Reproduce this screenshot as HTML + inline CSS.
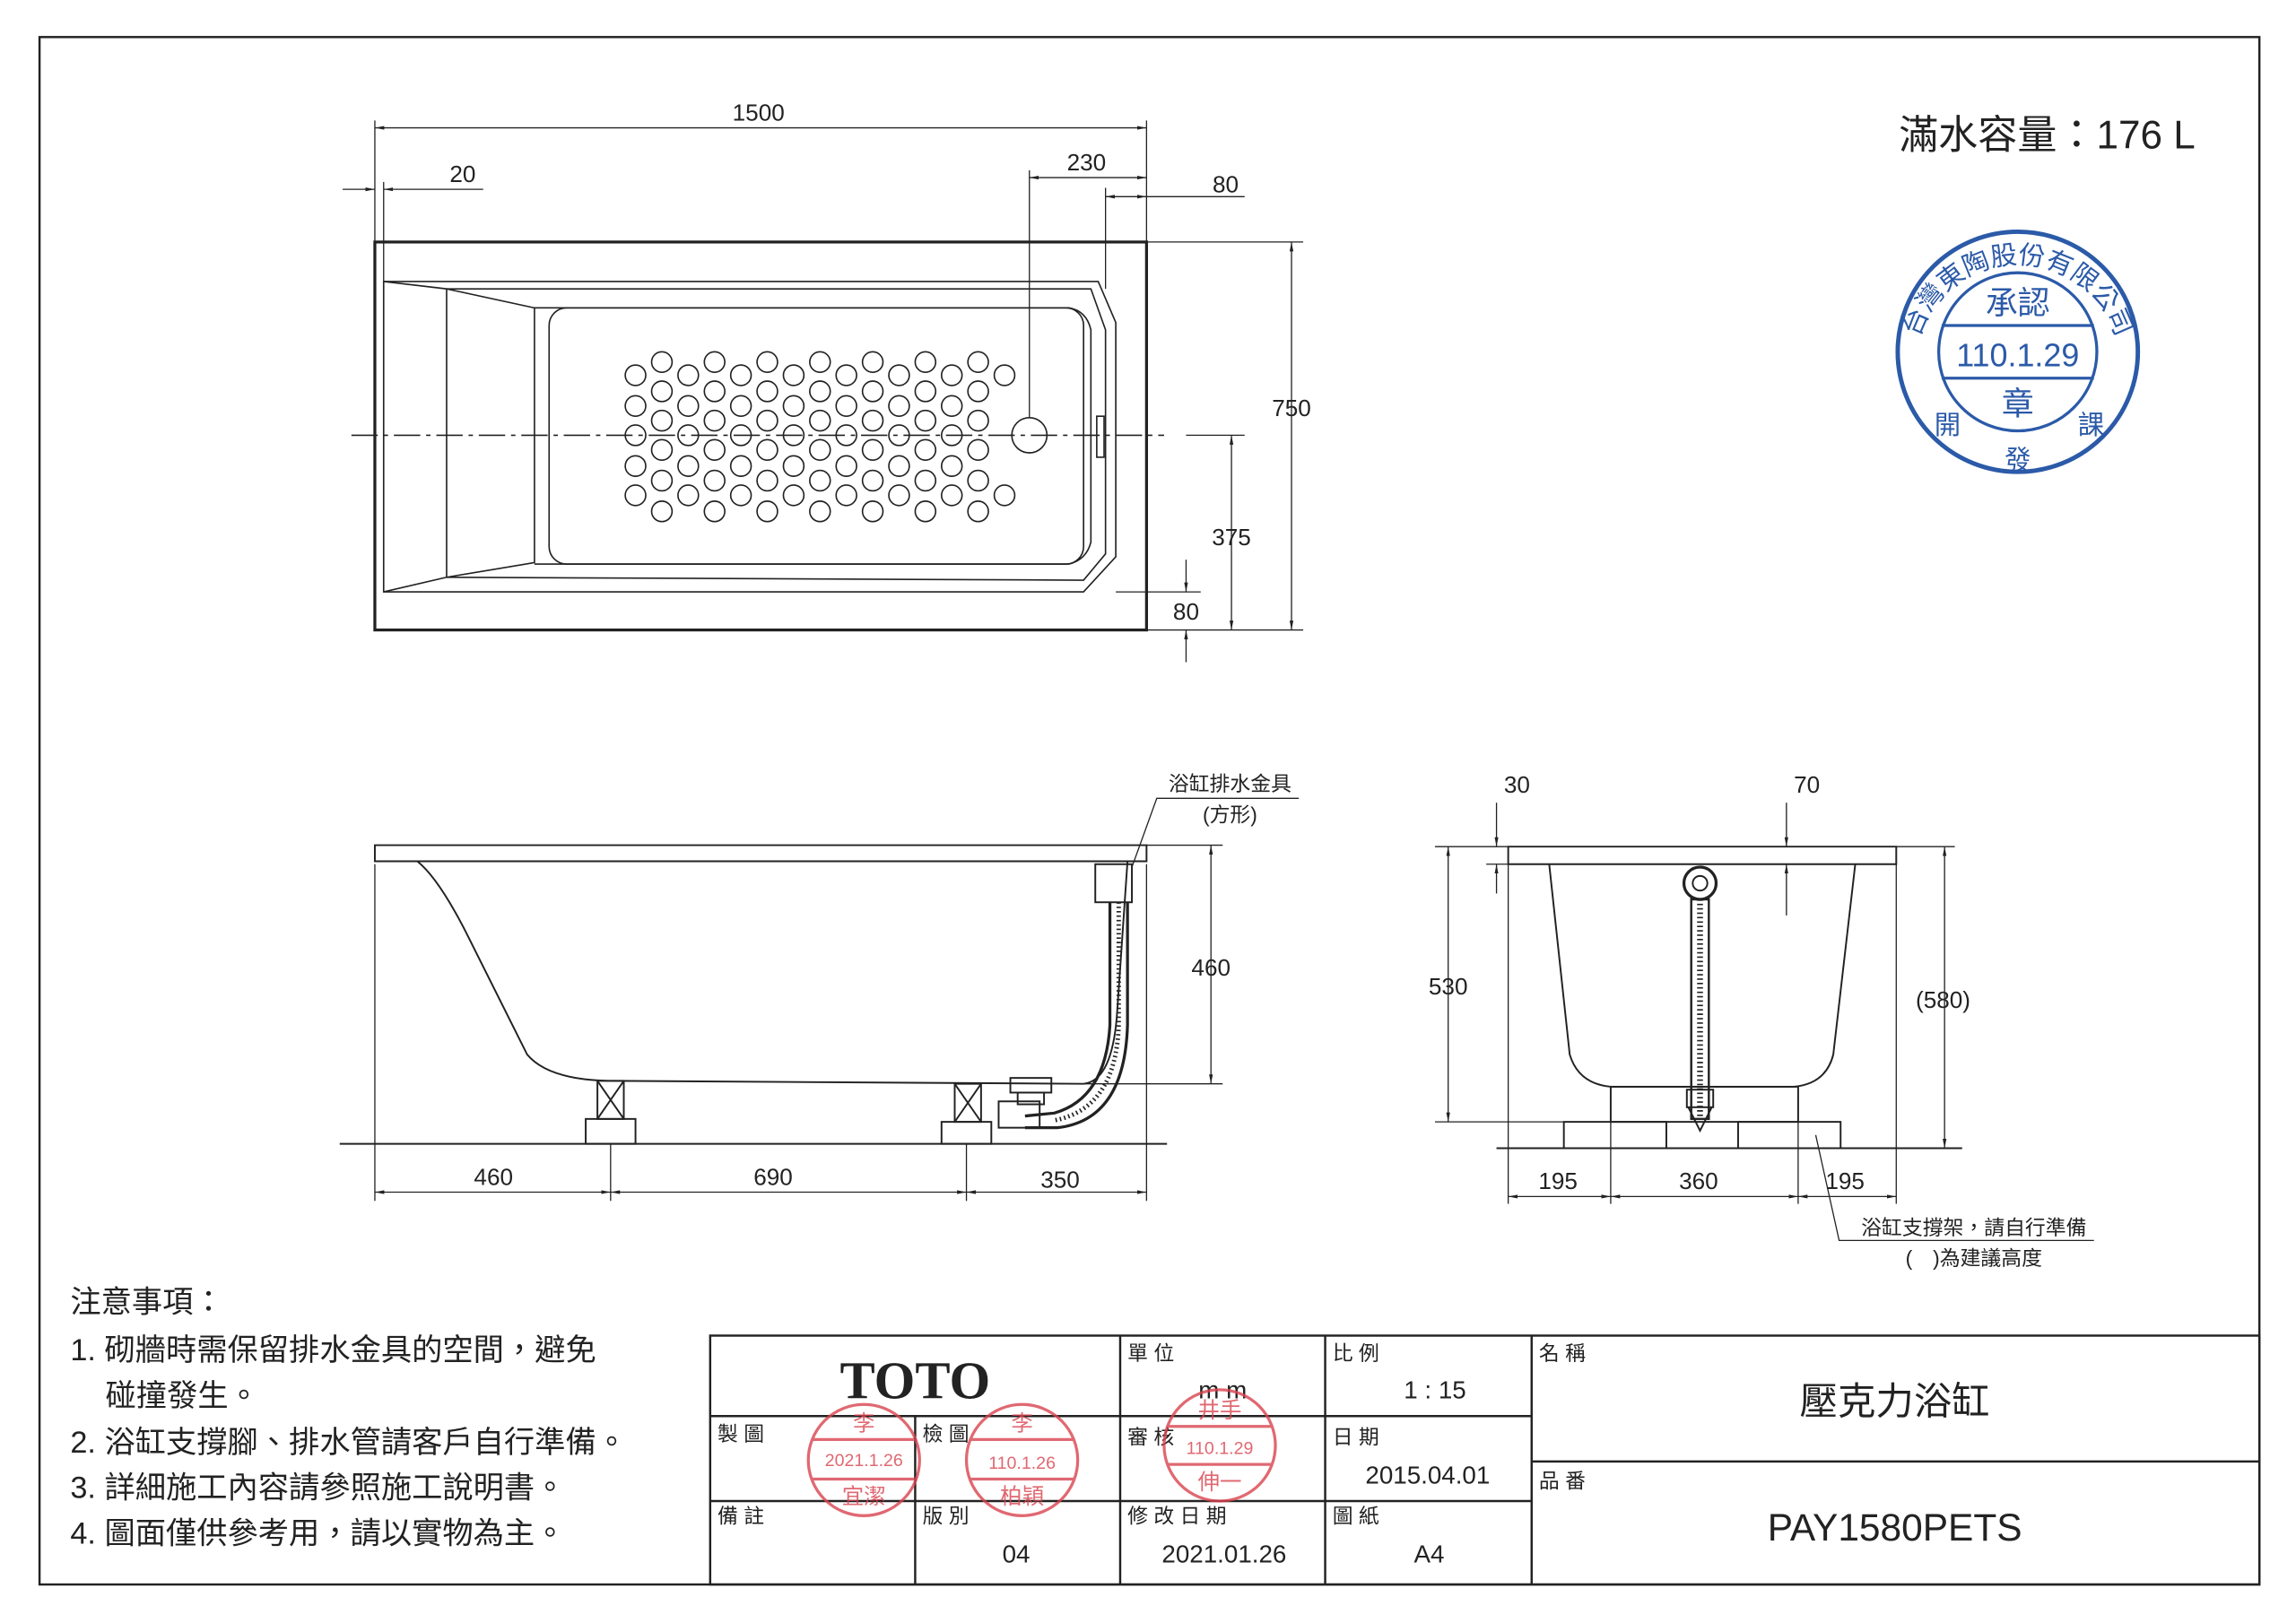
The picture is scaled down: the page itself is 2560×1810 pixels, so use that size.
<!DOCTYPE html>
<html><head><meta charset="utf-8"><style>
html,body{margin:0;padding:0;background:#fff;}
svg{display:block;}
text{font-family:"Liberation Sans","Noto Sans CJK TC",sans-serif;fill:#222;}
</style></head><body>
<svg width="2560" height="1810" viewBox="0 0 1568 1108" xmlns="http://www.w3.org/2000/svg">
<defs>
<marker id="a" viewBox="0 0 10 10" refX="10" refY="5" markerWidth="8" markerHeight="8" orient="auto-start-reverse"><path d="M0,3L10,5L0,7z" fill="#222"/></marker>
<path id="arc" d="M1308 250 A70 70 0 0 1 1448 250"/>
</defs>
<g stroke="#222" fill="none" stroke-width="1">
<rect x="27" y="25" width="1516" height="1057" stroke-width="1.5"/>
<rect x="256" y="165" width="527" height="265" stroke-width="2"/>
<path d="M262 192 L750 192 L762 220 L762 380 L740 404 L262 404 Z"/>
<path d="M262 192 L305 197 L305 394 L262 404"/>
<path d="M305 197 L745 197 L755 225 L755 378 L740 396 L305 394"/>
<path d="M305 197 L365 210 L365 384 L305 394"/>
<rect x="375" y="210" width="365" height="175" rx="12"/>
<path d="M365 210 L730 210 Q742 212 745 225 L745 370 Q742 382 730 385 L365 385"/>
<line x1="240" y1="297" x2="795" y2="297" stroke-dasharray="18,4,3,4"/>
<circle cx="703" cy="297" r="12"/>
<rect x="749" y="284" width="5" height="28"/>
<circle cx="434" cy="256" r="7"/><circle cx="434" cy="277" r="7"/><circle cx="434" cy="297" r="7"/><circle cx="434" cy="318" r="7"/><circle cx="434" cy="338" r="7"/>
<circle cx="452" cy="247" r="7"/><circle cx="452" cy="267" r="7"/><circle cx="452" cy="287" r="7"/><circle cx="452" cy="307" r="7"/><circle cx="452" cy="328" r="7"/><circle cx="452" cy="349" r="7"/>
<circle cx="470" cy="256" r="7"/><circle cx="470" cy="277" r="7"/><circle cx="470" cy="297" r="7"/><circle cx="470" cy="318" r="7"/><circle cx="470" cy="338" r="7"/>
<circle cx="488" cy="247" r="7"/><circle cx="488" cy="267" r="7"/><circle cx="488" cy="287" r="7"/><circle cx="488" cy="307" r="7"/><circle cx="488" cy="328" r="7"/><circle cx="488" cy="349" r="7"/>
<circle cx="506" cy="256" r="7"/><circle cx="506" cy="277" r="7"/><circle cx="506" cy="297" r="7"/><circle cx="506" cy="318" r="7"/><circle cx="506" cy="338" r="7"/>
<circle cx="524" cy="247" r="7"/><circle cx="524" cy="267" r="7"/><circle cx="524" cy="287" r="7"/><circle cx="524" cy="307" r="7"/><circle cx="524" cy="328" r="7"/><circle cx="524" cy="349" r="7"/>
<circle cx="542" cy="256" r="7"/><circle cx="542" cy="277" r="7"/><circle cx="542" cy="297" r="7"/><circle cx="542" cy="318" r="7"/><circle cx="542" cy="338" r="7"/>
<circle cx="560" cy="247" r="7"/><circle cx="560" cy="267" r="7"/><circle cx="560" cy="287" r="7"/><circle cx="560" cy="307" r="7"/><circle cx="560" cy="328" r="7"/><circle cx="560" cy="349" r="7"/>
<circle cx="578" cy="256" r="7"/><circle cx="578" cy="277" r="7"/><circle cx="578" cy="297" r="7"/><circle cx="578" cy="318" r="7"/><circle cx="578" cy="338" r="7"/>
<circle cx="596" cy="247" r="7"/><circle cx="596" cy="267" r="7"/><circle cx="596" cy="287" r="7"/><circle cx="596" cy="307" r="7"/><circle cx="596" cy="328" r="7"/><circle cx="596" cy="349" r="7"/>
<circle cx="614" cy="256" r="7"/><circle cx="614" cy="277" r="7"/><circle cx="614" cy="297" r="7"/><circle cx="614" cy="318" r="7"/><circle cx="614" cy="338" r="7"/>
<circle cx="632" cy="247" r="7"/><circle cx="632" cy="267" r="7"/><circle cx="632" cy="287" r="7"/><circle cx="632" cy="307" r="7"/><circle cx="632" cy="328" r="7"/><circle cx="632" cy="349" r="7"/>
<circle cx="650" cy="256" r="7"/><circle cx="650" cy="277" r="7"/><circle cx="650" cy="297" r="7"/><circle cx="650" cy="318" r="7"/><circle cx="650" cy="338" r="7"/>
<circle cx="668" cy="247" r="7"/><circle cx="668" cy="267" r="7"/><circle cx="668" cy="287" r="7"/><circle cx="668" cy="307" r="7"/><circle cx="668" cy="328" r="7"/><circle cx="668" cy="349" r="7"/>
<circle cx="686" cy="256" r="7"/><circle cx="686" cy="338" r="7"/>
</g>
<g stroke="#222" stroke-width="0.8" fill="none">
<line x1="256" y1="87" x2="783" y2="87" marker-start="url(#a)" marker-end="url(#a)"/>
<line x1="256" y1="82" x2="256" y2="165"/><line x1="783" y1="82" x2="783" y2="165"/>
<line x1="234" y1="129" x2="256" y2="129" marker-end="url(#a)"/><line x1="262" y1="129" x2="330" y2="129" marker-start="url(#a)"/>
<line x1="262" y1="124" x2="262" y2="192"/>
<line x1="703" y1="121" x2="783" y2="121" marker-start="url(#a)" marker-end="url(#a)"/>
<line x1="703" y1="116" x2="703" y2="285"/>
<line x1="755" y1="134" x2="783" y2="134" marker-start="url(#a)" marker-end="url(#a)"/><line x1="783" y1="134" x2="850" y2="134"/>
<line x1="755" y1="128" x2="755" y2="197"/>
<line x1="783" y1="165" x2="890" y2="165"/><line x1="783" y1="430" x2="890" y2="430"/>
<line x1="882" y1="165" x2="882" y2="430" marker-start="url(#a)" marker-end="url(#a)"/>
<line x1="841" y1="297" x2="841" y2="430" marker-start="url(#a)" marker-end="url(#a)"/>
<line x1="810" y1="297" x2="850" y2="297"/>
<line x1="762" y1="404" x2="820" y2="404"/>
<line x1="810" y1="382" x2="810" y2="404" marker-end="url(#a)"/><line x1="810" y1="452" x2="810" y2="430" marker-end="url(#a)"/>
</g>
<g font-size="16" text-anchor="middle">
<text x="518" y="82">1500</text><text x="316" y="124">20</text><text x="742" y="116">230</text><text x="837" y="131">80</text>
<text x="882" y="284">750</text><text x="841" y="372">375</text><text x="810" y="423">80</text>
</g>
<text x="1398" y="101" font-size="27" text-anchor="middle">滿水容量：176 L</text>
<g stroke="#222" fill="none" stroke-width="1.2">
<path d="M256 577 L783 577 L783 588 L256 588 Z"/>
<path d="M285 588 Q300 600 320 640 L360 720 Q375 738 420 738 L740 740 Q760 738 763 690 L770 588"/>
<line x1="232" y1="781" x2="797" y2="781"/>
<rect x="408" y="738" width="18" height="26"/><path d="M408 738 L426 764 M426 738 L408 764"/>
<rect x="400" y="764" width="34" height="17"/>
<rect x="652" y="740" width="18" height="26"/><path d="M652 740 L670 766 M670 740 L652 766"/>
<rect x="643" y="766" width="34" height="15"/>
<rect x="748" y="590" width="25" height="26"/>
<path d="M758 616 L758 700 Q755 750 720 760 L700 762 M770 616 L770 700 Q768 765 722 770 L700 770" stroke-width="2"/>
<path d="M764 616 L764 700 Q762 757 720 765" stroke-width="3" stroke-dasharray="1,2"/>
<rect x="690" y="736" width="28" height="10"/><rect x="695" y="746" width="18" height="8"/>
<rect x="682" y="752" width="28" height="18"/>
</g>
<g stroke="#222" stroke-width="0.8" fill="none">
<line x1="783" y1="577" x2="835" y2="577"/><line x1="740" y1="740" x2="835" y2="740"/>
<line x1="827" y1="577" x2="827" y2="740" marker-start="url(#a)" marker-end="url(#a)"/>
<line x1="256" y1="590" x2="256" y2="820"/><line x1="417" y1="781" x2="417" y2="820"/><line x1="660" y1="781" x2="660" y2="820"/><line x1="783" y1="590" x2="783" y2="820"/>
<line x1="256" y1="814" x2="417" y2="814" marker-start="url(#a)" marker-end="url(#a)"/>
<line x1="417" y1="814" x2="660" y2="814" marker-start="url(#a)" marker-end="url(#a)"/>
<line x1="660" y1="814" x2="783" y2="814" marker-start="url(#a)" marker-end="url(#a)"/>
<path d="M773 592 L790 545 L887 545"/>
</g>
<g font-size="16" text-anchor="middle">
<text x="827" y="666">460</text><text x="337" y="809">460</text><text x="528" y="809">690</text><text x="724" y="811">350</text>
<text x="840" y="540" font-size="14">浴缸排水金具</text><text x="840" y="561" font-size="14">(方形)</text>
</g>
<g stroke="#222" fill="none" stroke-width="1.2">
<path d="M1030 578 L1295 578 L1295 590 L1030 590 Z"/>
<path d="M1058 590 L1072 720 Q1078 740 1100 742 L1225 742 Q1247 740 1252 720 L1267 590"/>
<line x1="1022" y1="784" x2="1340" y2="784"/>
<rect x="1100" y="742" width="128" height="24"/>
<rect x="1068" y="766" width="70" height="18"/><rect x="1187" y="766" width="70" height="18"/>
<circle cx="1161" cy="603" r="11" stroke-width="2"/><circle cx="1161" cy="603" r="5"/>
<rect x="1155" y="614" width="12" height="150" stroke-width="1.5"/>
<line x1="1161" y1="614" x2="1161" y2="764" stroke-width="4" stroke-dasharray="1,2"/>
<rect x="1152" y="744" width="18" height="12"/><path d="M1153 756 L1161 772 L1169 756"/>
</g>
<g stroke="#222" stroke-width="0.8" fill="none">
<line x1="980" y1="578" x2="1030" y2="578"/><line x1="980" y1="766" x2="1100" y2="766"/>
<line x1="989" y1="578" x2="989" y2="766" marker-start="url(#a)" marker-end="url(#a)"/>
<line x1="1022" y1="548" x2="1022" y2="578" marker-end="url(#a)"/><line x1="1022" y1="610" x2="1022" y2="590" marker-end="url(#a)"/>
<line x1="1015" y1="590" x2="1030" y2="590"/>
<line x1="1220" y1="548" x2="1220" y2="578" marker-end="url(#a)"/><line x1="1220" y1="625" x2="1220" y2="590" marker-end="url(#a)"/>
<line x1="1295" y1="578" x2="1335" y2="578"/><line x1="1257" y1="784" x2="1335" y2="784"/>
<line x1="1328" y1="578" x2="1328" y2="784" marker-start="url(#a)" marker-end="url(#a)"/>
<line x1="1030" y1="590" x2="1030" y2="822"/><line x1="1100" y1="766" x2="1100" y2="822"/><line x1="1228" y1="766" x2="1228" y2="822"/><line x1="1295" y1="590" x2="1295" y2="822"/>
<line x1="1030" y1="817" x2="1100" y2="817" marker-start="url(#a)" marker-end="url(#a)"/>
<line x1="1100" y1="817" x2="1228" y2="817" marker-start="url(#a)" marker-end="url(#a)"/>
<line x1="1228" y1="817" x2="1295" y2="817" marker-start="url(#a)" marker-end="url(#a)"/>
<path d="M1240 775 L1256 847 L1430 847"/>
</g>
<g font-size="16" text-anchor="middle">
<text x="1036" y="541">30</text><text x="1234" y="541">70</text><text x="989" y="679">530</text><text x="1327" y="688">(580)</text>
<text x="1064" y="812">195</text><text x="1160" y="812">360</text><text x="1260" y="812">195</text>
<text x="1348" y="843" font-size="14">浴缸支撐架，請自行準備</text>
<text x="1348" y="864" font-size="14">(　)為建議高度</text>
</g>
<g font-size="21">
<text x="48" y="896">注意事項：</text>
<text x="48" y="929">1. 砌牆時需保留排水金具的空間，避免</text>
<text x="72" y="960">碰撞發生。</text>
<text x="48" y="992">2. 浴缸支撐腳、排水管請客戶自行準備。</text>
<text x="48" y="1023">3. 詳細施工內容請參照施工說明書。</text>
<text x="48" y="1054">4. 圖面僅供參考用，請以實物為主。</text>
</g>
<g stroke="#222" fill="none" stroke-width="1.5">
<rect x="485" y="912" width="1058" height="170"/>
<line x1="625" y1="967" x2="625" y2="1082"/><line x1="765" y1="912" x2="765" y2="1082"/><line x1="905" y1="912" x2="905" y2="1082"/><line x1="1046" y1="912" x2="1046" y2="1082"/>
<line x1="485" y1="967" x2="1046" y2="967"/><line x1="485" y1="1025" x2="1046" y2="1025"/><line x1="1046" y1="998" x2="1543" y2="998"/>
</g>
<text x="625" y="955" font-size="36" font-weight="bold" text-anchor="middle" style="font-family:'Liberation Serif',serif">TOTO</text>
<g font-size="14">
<text x="490" y="984">製 圖</text><text x="630" y="984">檢 圖</text><text x="770" y="929">單 位</text><text x="770" y="986">審 核</text>
<text x="910" y="929">比 例</text><text x="910" y="986">日 期</text><text x="490" y="1040">備 註</text><text x="630" y="1040">版 別</text>
<text x="770" y="1040">修 改 日 期</text><text x="910" y="1040">圖 紙</text><text x="1051" y="929">名 稱</text><text x="1051" y="1016">品 番</text>
</g>
<g font-size="17" text-anchor="middle">
<text x="835" y="955">m m</text><text x="980" y="955">1 : 15</text><text x="975" y="1013">2015.04.01</text>
<text x="694" y="1067">04</text><text x="836" y="1067">2021.01.26</text><text x="976" y="1067">A4</text>
<text x="1294" y="966" font-size="26">壓克力浴缸</text>
<text x="1294" y="1052" font-size="26">PAY1580PETS</text>
</g>
<g stroke="#d9434e" fill="none" stroke-width="2" opacity="0.8">
<circle cx="590" cy="997" r="38"/><line x1="555" y1="983" x2="625" y2="983"/><line x1="555" y1="1010" x2="625" y2="1010"/>
<circle cx="698" cy="997" r="38"/><line x1="662" y1="983" x2="734" y2="983"/><line x1="662" y1="1010" x2="734" y2="1010"/>
<circle cx="833" cy="987" r="38"/><line x1="797" y1="974" x2="869" y2="974"/><line x1="797" y1="1000" x2="869" y2="1000"/>
</g>
<g font-size="15" text-anchor="middle" opacity="0.8">
<text x="590" y="977" style="fill:#d9434e">李</text><text x="590" y="1001" font-size="12" style="fill:#d9434e">2021.1.26</text><text x="590" y="1027" style="fill:#d9434e">宜潔</text>
<text x="698" y="977" style="fill:#d9434e">李</text><text x="698" y="1003" font-size="12" style="fill:#d9434e">110.1.26</text><text x="698" y="1027" style="fill:#d9434e">柏穎</text>
<text x="833" y="968" style="fill:#d9434e">井手</text><text x="833" y="993" font-size="12" style="fill:#d9434e">110.1.29</text><text x="833" y="1017" style="fill:#d9434e">伸一</text>
</g>
<g stroke="#2b5aa8" fill="none" stroke-width="3">
<circle cx="1378" cy="240" r="82"/><circle cx="1378" cy="240" r="54" stroke-width="2"/>
<line x1="1326" y1="222" x2="1430" y2="222" stroke-width="2"/><line x1="1326" y1="258" x2="1430" y2="258" stroke-width="2"/>
</g>
<g font-size="22" text-anchor="middle">
<text x="1378" y="214" style="fill:#2b5aa8">承認</text>
<text x="1378" y="250" style="fill:#2b5aa8">110.1.29</text>
<text x="1378" y="283" style="fill:#2b5aa8">章</text>
<text x="1378" y="320" style="fill:#2b5aa8" font-size="18">發</text>
<text font-size="18" style="fill:#2b5aa8"><textPath href="#arc" startOffset="50%">台灣東陶股份有限公司</textPath></text>
<text x="1330" y="296" style="fill:#2b5aa8" font-size="18">開</text>
<text x="1428" y="296" style="fill:#2b5aa8" font-size="18">課</text>
</g>
</svg>
</body></html>
